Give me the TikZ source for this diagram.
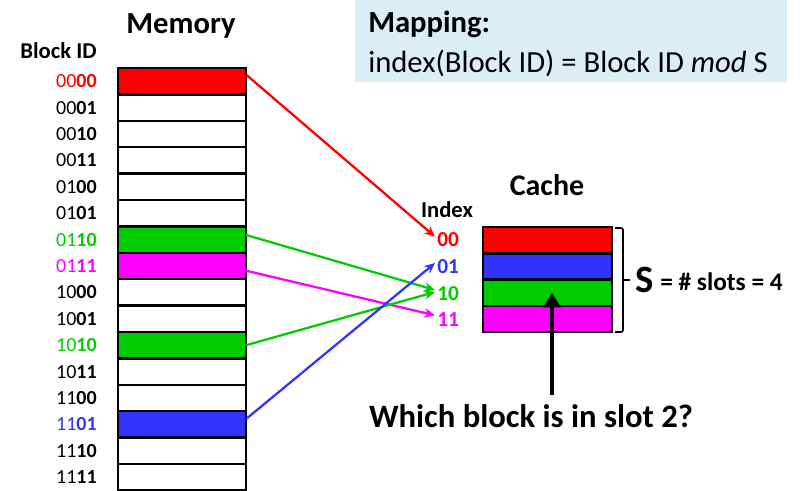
\documentclass[tikz,border=0pt]{standalone}
\usepackage{fontspec}
\setmainfont{Carlito}
\usetikzlibrary{arrows.meta}

\definecolor{memred}{RGB}{255,0,0}
\definecolor{memgreen}{RGB}{0,204,0}
\definecolor{memblue}{RGB}{51,51,255}
\definecolor{memmagenta}{RGB}{255,0,255}
\definecolor{mapbg}{RGB}{218,238,243}

\newcommand{\fsz}[1]{\fontsize{#1}{#1}\selectfont}

\begin{document}
\begin{tikzpicture}[x=0.75pt, y=-0.75pt,
    slot/.style={draw, line width=1.8pt, minimum width=96pt, minimum height=19.8pt, inner sep=0pt, outer sep=0pt},
    idlabel/.style={anchor=east, inner sep=0pt, font=\fsz{15}},
    idxlabel/.style={anchor=west, inner sep=1.5pt, font=\bfseries\fsz{16}},
    title/.style={anchor=base, inner sep=0pt, font=\bfseries\fsz{23}},
    maparrow/.style={line width=1.7pt, -{Stealth[length=8pt, width=7pt]}}
]
    % Page
    \useasboundingbox (0,0) rectangle (806,490);

    % Mapping box
    \fill[mapbg] (355,0) rectangle (787,82);
    \node[anchor=base west, inner sep=0pt, font=\bfseries\fsz{23}] (maphead) at (368,32) {Mapping:};
    \node[anchor=base west, inner sep=0pt, font=\fsz{23}] (mapline) at (368,72) {index(Block ID) = Block ID \emph{mod} S};

    % Memory
    \node[title] (memtitle) at (181,33) {Memory};
    \node[anchor=base east, inner sep=0pt, font=\bfseries\fsz{17}] (blockid) at (97,58) {Block ID};
    \foreach \i/\hi/\lo/\c/\f in {0/00/00/memred/memred, 1/00/01/black/white, 2/00/10/black/white,
        3/00/11/black/white, 4/01/00/black/white, 5/01/01/black/white, 6/01/10/memgreen/memgreen,
        7/01/11/memmagenta/memmagenta, 8/10/00/black/white, 9/10/01/black/white, 10/10/10/memgreen/memgreen,
        11/10/11/black/white, 12/11/00/black/white, 13/11/01/memblue/memblue, 14/11/10/black/white,
        15/11/11/black/white}{
        \node[slot, fill=\f] (m\i) at (182, {81.2+26.4*\i}) {};
        \node[idlabel, text=\c] (b\i) at (97, {81.2+26.4*\i}) {\hi\textbf{\lo}};
    }

    % Cache
    \node[title, font=\bfseries\fsz{22.5}] (cachetitle) at (547,195) {Cache};
    \node[anchor=base, inner sep=0pt, font=\bfseries\fsz{17}] (indextitle) at (447,217) {Index};
    \foreach \j/\f in {0/memred, 1/memblue, 2/memgreen, 3/memmagenta}{
        \node[slot, fill=\f, minimum width=96.75pt, minimum height=19.7pt] (c\j) at (547.5, {240.2+26.3*\j}) {};
    }
    \node[idxlabel, text=memred] (i0) at (435,240) {00};
    \node[idxlabel, text=memblue] (i1) at (435,267) {01};
    \node[idxlabel, text=memgreen] (i2) at (435,294) {10};
    \node[idxlabel, text=memmagenta] (i3) at (435,320) {11};

    % Memory -> index
    \draw[maparrow, memred] ([yshift=5pt]m0.east) -- ([yshift=2.5pt]i0.west);
    \draw[maparrow, memgreen] ([yshift=3.5pt]m6.east) -- ([yshift=3pt]i2.west);
    \draw[maparrow, memmagenta] ([yshift=-3.5pt]m7.east) -- ([yshift=3.5pt]i3.west);
    \draw[maparrow, memgreen] (m10.east) -- ([yshift=1.5pt]i2.west);
    \draw[maparrow, memblue] ([yshift=4pt]m13.east) -- ([yshift=3pt]i1.west);

    % S bracket
    \draw[line width=1.2pt, rounded corners=1.5pt] (615,228) -- (623,228) -- (623,332) -- (615,332);
    \draw[line width=1.2pt] (623,280) -- (630,280);
    \node[anchor=base west, inner sep=0pt, font=\bfseries\fsz{29}] (slots) at (635,292) {S};
    \node[anchor=base west, inner sep=0pt, font=\bfseries\fsz{19}] (slotseq) at (660,290) {= \# slots = 4};

    % Question
    \node[anchor=base, inner sep=0pt, font=\bfseries\fsz{24.5}] (question) at (531,427) {Which block is in slot 2?};
    \coordinate (qtop) at (552,395);
    \draw[line width=3.6pt, -{Triangle[length=11pt, width=13pt]}] (qtop) -- (qtop |- c2.center);

\end{tikzpicture}
\end{document}
